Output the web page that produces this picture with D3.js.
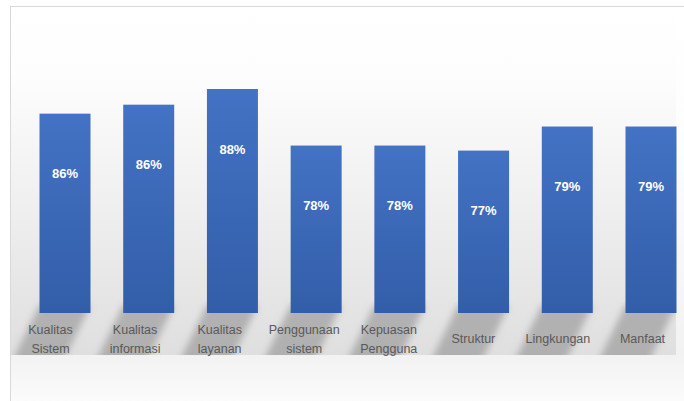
<!DOCTYPE html>
<html><head><meta charset="utf-8">
<script src="https://cdn.jsdelivr.net/npm/d3@7"></script>
<style>body{margin:0;background:#fff}svg{display:block}</style>
</head><body><svg id="c" width="684" height="401"></svg>
<script>
// ---- data ----
const categories = ["Kualitas Sistem","Kualitas informasi","Kualitas layanan","Penggunaan sistem","Kepuasan Pengguna","Struktur","Lingkungan","Manfaat"];
const labelLines = [["Kualitas","Sistem"],["Kualitas","informasi"],["Kualitas","layanan"],["Penggunaan","sistem"],["Kepuasan","Pengguna"],["Struktur"],["Lingkungan"],["Manfaat"]];
const percentages = [86,86,88,78,78,77,79,79];          // printed data labels
const barLengths  = [83.6,85.2,88,77.9,77.9,77,81.3,81.3]; // bar lengths as drawn in the picture

// ---- layout ----
const W = 684, H = 401;
const plot = {x0:10, x1:676, y0:6, base:313, bottom:355};
const svg = d3.select("#c");
const defs = svg.append("defs");

const bgGrad = defs.append("linearGradient").attr("id","bg").attr("gradientUnits","userSpaceOnUse")
  .attr("x1",0).attr("y1",6).attr("x2",0).attr("y2",401);
[[0,"#ffffff"],[0.35,"#fdfdfd"],[0.88,"#f2f2f2"],[1,"#fbfbfb"]].forEach(s=>bgGrad.append("stop").attr("offset",s[0]).attr("stop-color",s[1]));
const plGrad = defs.append("linearGradient").attr("id","pl").attr("gradientUnits","userSpaceOnUse")
  .attr("x1",0).attr("y1",6).attr("x2",0).attr("y2",355);
[[0,"#ffffff"],[0.2,"#fdfdfd"],[0.55,"#f0f0f0"],[1,"#dfdfdf"]].forEach(s=>plGrad.append("stop").attr("offset",s[0]).attr("stop-color",s[1]));
const barGrad = defs.append("linearGradient").attr("id","bar").attr("x1",0).attr("y1",0).attr("x2",0).attr("y2",1);
[[0,"#4472c4"],[1,"#325ea9"]].forEach(s=>barGrad.append("stop").attr("offset",s[0]).attr("stop-color",s[1]));
defs.append("filter").attr("id","blur").attr("x","-50%").attr("y","-50%").attr("width","200%").attr("height","200%")
  .append("feGaussianBlur").attr("stdDeviation",3.5);
defs.append("clipPath").attr("id","plotClip").append("rect")
  .attr("x",plot.x0).attr("y",plot.y0).attr("width",plot.x1-plot.x0).attr("height",plot.bottom-plot.y0);

// chart area
svg.append("rect").attr("x",10.5).attr("y",6.5).attr("width",W).attr("height",H).attr("fill","url(#bg)").attr("stroke","#d9d9d9");
// plot area
svg.append("rect").attr("x",plot.x0+1).attr("y",plot.y0+1).attr("width",plot.x1-plot.x0-1).attr("height",plot.bottom-plot.y0-1).attr("fill","url(#pl)");

// scales
const x = d3.scalePoint().domain(categories).range([65,651]);
const xl = d3.scalePoint().domain(categories).range([50,642]);
const bw = 51;
const y = d3.scaleLinear().domain([48,88]).range([plot.base,89]);

const data = categories.map((c,i)=>({c, lines:labelLines[i], p:percentages[i], v:barLengths[i]}));

// shadows
const sh = svg.append("g").attr("clip-path","url(#plotClip)").append("g").attr("filter","url(#blur)");
sh.selectAll("path").data(data).join("path")
  .attr("d",d=>{
    const a = x(d.c)-bw/2, b = x(d.c)+bw/2, t = plot.base-8, btm = plot.bottom+20, dx = 34;
    return `M${a},${t}L${b},${t}L${b-dx},${btm}L${a-dx},${btm}Z`;
  })
  .attr("fill","#939393").attr("opacity",0.62);

// bars
svg.append("g").selectAll("rect").data(data).join("rect")
  .attr("x",d=>x(d.c)-bw/2).attr("width",bw)
  .attr("y",d=>y(d.v)).attr("height",d=>y.range()[0]-y(d.v))
  .attr("fill","url(#bar)");

// value labels
svg.append("g").selectAll("text").data(data).join("text")
  .attr("x",d=>x(d.c)).attr("y",d=>y(d.v)+60).attr("dy","0.35em")
  .attr("text-anchor","middle").attr("fill","#ffffff")
  .attr("font-family","Liberation Sans, Arial, sans-serif").attr("font-weight","bold").attr("font-size",13)
  .text(d=>d.p+"%");

// category axis
const ax = svg.append("g").attr("transform","translate(0,339)")
  .call(d3.axisBottom(xl).tickSize(0).tickPadding(0));
ax.select(".domain").remove();
ax.selectAll(".tick text").each(function(c){
  const lines = labelLines[categories.indexOf(c)];
  const t = d3.select(this).text(null).attr("y",0).attr("dy",null)
    .attr("fill","#595959").attr("font-family","Liberation Sans, Arial, sans-serif").attr("font-size",12.5);
  lines.forEach((ln,i)=>{
    t.append("tspan").attr("x",0).attr("y",(i-(lines.length-1)/2)*18.5).attr("dy","0.35em").text(ln);
  });
});
</script></body></html>
